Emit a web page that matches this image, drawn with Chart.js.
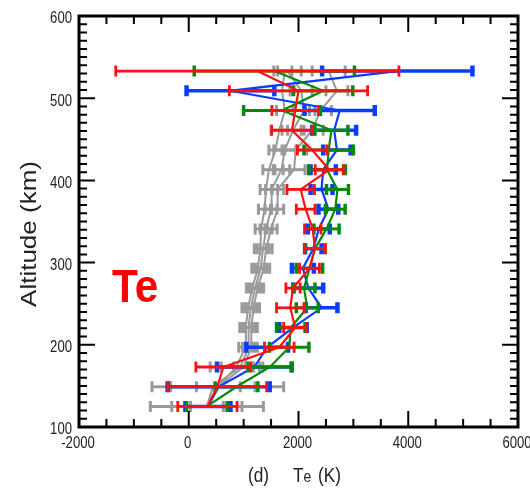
<!DOCTYPE html>
<html>
<head>
<meta charset="utf-8">
<script src="https://cdn.jsdelivr.net/npm/chart.js@4.4.1/dist/chart.umd.min.js"></script>
<style>
  html, body { margin: 0; padding: 0; background: #fff; }
  #wrap { width: 530px; height: 492px; position: relative; }
</style>
</head>
<body>
<div id="wrap"><canvas id="grafico"></canvas></div>
<script>
// ─── DADOS ──────────────────────────────────────────────────────────────────
const altitudes = [125,149,173,197,221,245,269,293,317,341,365,389,413,437,461,485,509,533];

const redTe    = [340, 520, 630,1650,1940,1850,1900,2200,2300,2260,2130,2040,2560,2250,1880,1940,2000,1250];
const redErr   = [540, 900, 500, 270, 210, 250, 130, 180, 190, 150, 170, 250, 255, 270, 370, 425,1260,2580];

const blueTe   = [350, 545,1195,1430,1900,2420,2180,2080,2270,2370,2545,2420,2450,2700,2650,2750, 760,3800];
const blueErr  = [410, 930, 680, 380, 250, 290, 270, 200, 150, 200, 180, 200, 230, 250, 400, 640, 800,1370];

const greenTe  = [330, 870,1480,1830,1860,2160,2100,2200,2300,2510,2670,2710,2520,2550,2600,1700,2450,1560];
const greenErr = [370, 390, 400, 360, 260, 200, 200, 240, 180, 230, 180, 200, 335, 450, 300, 700, 540,1460];

const gray1Te  = [330, 530, 870,1030,1040,1080,1160,1260,1305,1320,1380,1410,1460,1580,1650,1750,1700,1750];
const gray1Err = [1030,1200,480, 120, 110, 110, 110, 110, 110, 110, 110, 110, 110, 120, 150, 150, 150, 130];
const gray2Te  = [330, 440, 940,1090,1090,1130,1210,1310,1355,1410,1500,1510,1690,1750,1900,2100,2050,1800];
const gray2Err = [640, 770, 350, 110, 110, 110, 110, 110, 110, 110, 110, 110, 150, 200, 200, 200, 200, 250];
const gray3Te  = [330, 540,1000,1140,1140,1180,1255,1365,1410,1500,1620,1620,1920,1950,2250,2400,2700,2550];
const gray3Err = [300, 400, 180, 110, 110, 110, 110, 110, 110, 110, 110, 110, 200, 200, 200, 200, 200, 300];

const xTicks = { min: -2000, max: 6000, step: 2000, minor: 500 };
const yTicks = { min: 100, max: 600, step: 100, minor: 10 };

// ─── HELPERS ────────────────────────────────────────────────────────────────
const FONTE = '"Liberation Sans", Arial, Helvetica, sans-serif';
const ESTREITO = 0.82;   // a figura original é comprimida na horizontal
const pontos = te => te.map((v, i) => ({ x: v, y: altitudes[i] }));

function serie(te, err, cor, lw, bw, cw){
  return {
    data: pontos(te), errs: err,
    borderColor: cor, backgroundColor: cor,
    borderWidth: lw, barWidth: bw, capWidth: cw,
    showLine: true, pointRadius: 0, tension: 0
  };
}

function textoEstreito(ctx, txt, x, y, align, font){
  ctx.save();
  ctx.font = font;
  ctx.textAlign = align;
  ctx.translate(x, y);
  ctx.scale(ESTREITO, 1);
  ctx.fillText(txt, 0, 0);
  ctx.restore();
}

// barras de erro horizontais, desenhadas logo depois de cada linha
const errorBars = {
  id: 'errorBars',
  afterDatasetDraw(chart, args){
    const ds = chart.data.datasets[args.index];
    if(!ds.errs) return;
    const { ctx, scales: { x, y } } = chart;
    const cap = 5.5;
    ctx.save();
    ctx.strokeStyle = ds.borderColor;
    ds.data.forEach((p, i) => {
      const e  = ds.errs[i];
      const x0 = x.getPixelForValue(p.x - e);
      const x1 = x.getPixelForValue(p.x + e);
      const yy = y.getPixelForValue(p.y);
      ctx.lineWidth = ds.barWidth;
      ctx.beginPath(); ctx.moveTo(x0, yy); ctx.lineTo(x1, yy); ctx.stroke();
      ctx.lineWidth = ds.capWidth;
      ctx.beginPath();
      ctx.moveTo(x0, yy - cap); ctx.lineTo(x0, yy + cap);
      ctx.moveTo(x1, yy - cap); ctx.lineTo(x1, yy + cap);
      ctx.stroke();
    });
    ctx.restore();
  }
};

// moldura com ticks para dentro nos quatro lados, rótulos e títulos
const moldura = {
  id: 'moldura',
  afterDraw(chart){
    const { ctx, chartArea: a, scales: { x, y } } = chart;
    ctx.save();
    ctx.strokeStyle = '#000';
    ctx.lineWidth = 2;
    ctx.beginPath();
    for(let v = xTicks.min; v <= xTicks.max; v += xTicks.minor){
      const len = v % xTicks.step === 0 ? 16 : 8;
      const px = x.getPixelForValue(v);
      ctx.moveTo(px, a.bottom); ctx.lineTo(px, a.bottom - len);
      ctx.moveTo(px, a.top);    ctx.lineTo(px, a.top + len);
    }
    for(let v = yTicks.min; v <= yTicks.max; v += yTicks.minor){
      const len = v % yTicks.step === 0 ? 16 : 8;
      const py = y.getPixelForValue(v);
      ctx.moveTo(a.left, py);  ctx.lineTo(a.left + len, py);
      ctx.moveTo(a.right, py); ctx.lineTo(a.right - len, py);
    }
    ctx.stroke();
    ctx.lineWidth = 3;
    ctx.strokeRect(a.left, a.top, a.right - a.left, a.bottom - a.top);

    // rótulos dos ticks (valores vindos das escalas)
    ctx.fillStyle = '#222';
    ctx.textBaseline = 'middle';
    const fTick = `16px ${FONTE}`;
    y.ticks.forEach(t => textoEstreito(ctx, String(t.value), a.left - 7, y.getPixelForValue(t.value) + 3, 'right', fTick));
    x.ticks.forEach(t => textoEstreito(ctx, String(t.value), x.getPixelForValue(t.value) - 1, a.bottom + 17, 'center', fTick));

    // título do eixo y
    ctx.save();
    ctx.font = `26px ${FONTE}`;
    ctx.textAlign = 'center';
    ctx.textBaseline = 'middle';
    ctx.translate(30, 234);
    ctx.scale(ESTREITO, 1);
    ctx.rotate(-Math.PI / 2);
    ctx.fillText('Altitude (km)', 0, 0);
    ctx.restore();

    // título do eixo x: (d)   Te (K)
    ctx.textBaseline = 'alphabetic';
    const fBig = `21px ${FONTE}`, fSmall = `17px ${FONTE}`;
    textoEstreito(ctx, '(d)', 248, 482, 'left', fBig);
    textoEstreito(ctx, 'T', 293, 482, 'left', fBig);
    ctx.font = fBig;
    const wT = ctx.measureText('T').width * ESTREITO;
    textoEstreito(ctx, 'e', 293 + wT, 482, 'left', fSmall);
    textoEstreito(ctx, '(K)', 318, 482, 'left', fBig);

    // rótulo Te
    ctx.fillStyle = '#ff0000';
    ctx.save();
    ctx.font = `bold 47px ${FONTE}`;
    ctx.textAlign = 'left';
    ctx.translate(112, 302);
    ctx.scale(0.9, 1);
    ctx.fillText('Te', 0, 0);
    ctx.restore();
    ctx.restore();
  }
};

// ─── GRÁFICO ────────────────────────────────────────────────────────────────
const cinza = '#9a9a9a';
const ctx = document.getElementById('grafico').getContext('2d');

// Chart.js desenha o primeiro dataset por cima: vermelho primeiro, cinza por último
window.graficoChart = new Chart(ctx, {
  type: 'scatter',
  data: {
    datasets: [
      serie(redTe,   redErr,   '#ff1010', 2.2, 2.8, 2.8),
      serie(greenTe, greenErr, '#068a06', 2.2, 3, 3.5),
      serie(blueTe,  blueErr,  '#0a3cff', 2.2, 3.5, 4.5),
      serie(gray3Te, gray3Err, cinza, 2, 3, 3),
      serie(gray2Te, gray2Err, cinza, 2, 3, 3),
      serie(gray1Te, gray1Err, cinza, 2, 3, 3)
    ]
  },
  options: {
    responsive: true, maintainAspectRatio: false, animation: false,
    layout: { padding: { top: 16, right: 12, left: 0, bottom: 0 } },
    plugins: { legend: { display: false }, tooltip: { enabled: false } },
    scales: {
      x: {
        type: 'linear', min: xTicks.min, max: xTicks.max,
        grid: { display: false, drawTicks: false },
        border: { display: false },
        ticks: { stepSize: xTicks.step, display: false },
        afterFit: s => { s.height = 65; }
      },
      y: {
        type: 'linear', min: yTicks.min, max: yTicks.max,
        grid: { display: false, drawTicks: false },
        border: { display: false },
        ticks: { stepSize: yTicks.step, display: false },
        afterFit: s => { s.width = 79; }
      }
    }
  },
  plugins: [errorBars, moldura]
});
</script>
</body>
</html>
